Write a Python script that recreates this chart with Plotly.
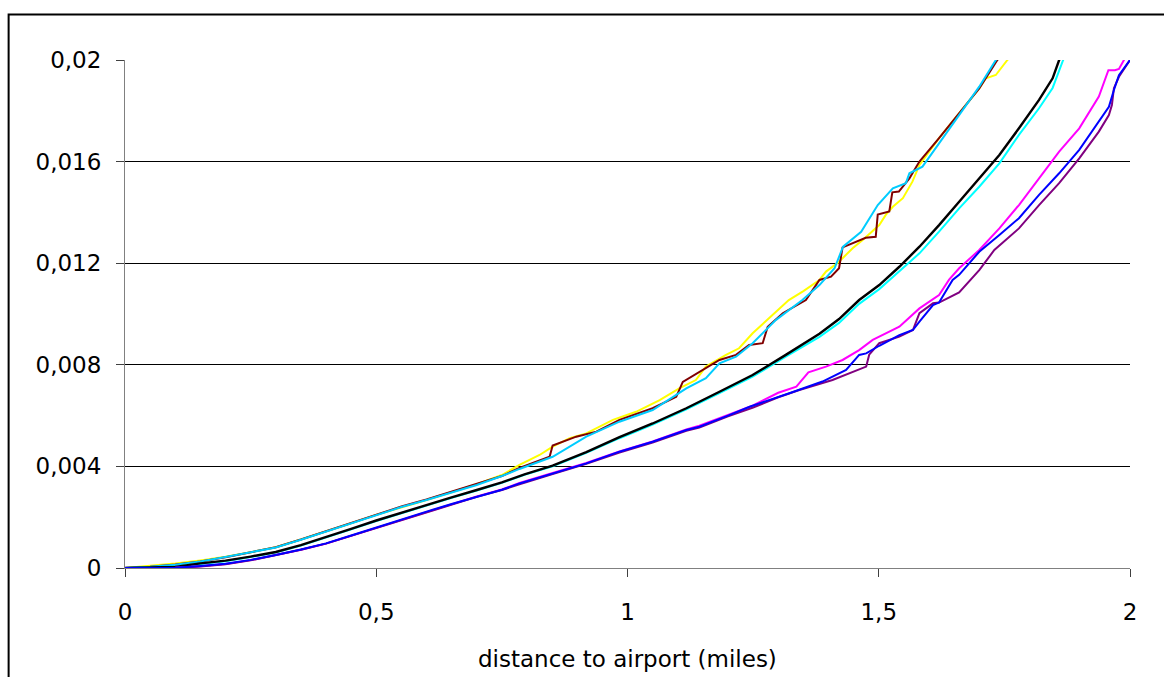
import plotly.graph_objects as go

# Shared sample points for the low-distance part of every curve
x_low = [0, 0.05, 0.1, 0.15, 0.2, 0.25, 0.3, 0.35, 0.4, 0.45, 0.5, 0.55, 0.6, 0.65, 0.7, 0.75]

# ---- upper group -------------------------------------------------------
yellow_y_low = [0, 0.00008, 0.00018, 0.00030, 0.00044, 0.00062, 0.00082, 0.00112, 0.00143, 0.00176,
                0.00209, 0.00240, 0.00268, 0.00298, 0.00330, 0.00366]
yellow_x_high = [0.785, 0.825, 0.851, 0.885, 0.918, 0.971, 1.017, 1.064, 1.103, 1.136, 1.156, 1.196,
                 1.222, 1.249, 1.288, 1.321, 1.35, 1.382, 1.395, 1.42, 1.448, 1.468, 1.501, 1.514,
                 1.528, 1.548, 1.567, 1.581, 1.62, 1.66, 1.7, 1.713, 1.733, 1.756, 1.77]
yellow_y_high = [0.00406, 0.00445, 0.00478, 0.00511, 0.00530, 0.00583, 0.00615, 0.00661, 0.00707,
                 0.00740, 0.00793, 0.00839, 0.00865, 0.00924, 0.00996, 0.01055, 0.01090, 0.01134,
                 0.01167, 0.01204, 0.01259, 0.01291, 0.01350, 0.01390, 0.01422, 0.01456, 0.01521,
                 0.01587, 0.01692, 0.01790, 0.01888, 0.01928, 0.01941, 0.02000, 0.02030]

brown_y_low = [0, 0.00005, 0.00014, 0.00026, 0.00042, 0.00061, 0.00082, 0.00112, 0.00145, 0.00178,
               0.00211, 0.00242, 0.00270, 0.00300, 0.00330, 0.00362]
brown_x_high = [0.785, 0.845, 0.851, 0.898, 0.938, 0.984, 1.05, 1.097, 1.11, 1.143, 1.183, 1.216,
                1.242, 1.269, 1.279, 1.309, 1.355, 1.382, 1.405, 1.421, 1.428, 1.474, 1.494, 1.498,
                1.521, 1.527, 1.54, 1.561, 1.581, 1.62, 1.66, 1.7, 1.736, 1.75]
brown_y_high = [0.00394, 0.00438, 0.00482, 0.00517, 0.00537, 0.00583, 0.00629, 0.00674, 0.00733,
                0.00773, 0.00819, 0.00839, 0.00878, 0.00885, 0.00950, 0.01003, 0.01055, 0.01134,
                0.01147, 0.01180, 0.01262, 0.01300, 0.01304, 0.01392, 0.01404, 0.01479, 0.01482,
                0.01534, 0.01600, 0.01692, 0.01790, 0.01888, 0.02000, 0.02030]

sky_y_low = [0, 0.00005, 0.00013, 0.00026, 0.00043, 0.00062, 0.00081, 0.00111, 0.00143, 0.00176,
             0.00209, 0.00240, 0.00268, 0.00298, 0.00327, 0.00362]
sky_x_high = [0.785, 0.851, 0.918, 0.984, 1.05, 1.117, 1.156, 1.183, 1.216, 1.249, 1.295, 1.348,
              1.382, 1.412, 1.429, 1.465, 1.498, 1.528, 1.554, 1.561, 1.587, 1.62, 1.66, 1.7,
              1.733, 1.75]
sky_y_high = [0.00390, 0.00438, 0.00517, 0.00576, 0.00622, 0.00707, 0.00747, 0.00806, 0.00832,
              0.00885, 0.00976, 0.01055, 0.01114, 0.01180, 0.01265, 0.01324, 0.01429, 0.01495,
              0.01515, 0.01554, 0.01580, 0.01672, 0.01783, 0.01895, 0.02000, 0.02040]

# ---- middle group ------------------------------------------------------
black_y_low = [0, 0.00002, 0.00004, 0.00018, 0.00029, 0.00045, 0.00063, 0.00090, 0.00121, 0.00154,
               0.00187, 0.00218, 0.00248, 0.00278, 0.00307, 0.00337]
black_x_high = [0.795, 0.851, 0.918, 0.984, 1.05, 1.117, 1.183, 1.249, 1.315, 1.382, 1.421, 1.461,
                1.501, 1.541, 1.581, 1.62, 1.66, 1.7, 1.74, 1.779, 1.819, 1.846, 1.859, 1.875]
black_y_high = [0.00369, 0.00403, 0.00456, 0.00515, 0.00569, 0.00629, 0.00694, 0.00760, 0.00839,
                0.00922, 0.00980, 0.01055, 0.01114, 0.01186, 0.01265, 0.01350, 0.01442, 0.01534,
                0.01626, 0.01731, 0.01843, 0.01928, 0.02000, 0.02050]

cyan_y_low = [0, 0.00002, 0.00004, 0.00016, 0.00027, 0.00043, 0.00061, 0.00088, 0.00119, 0.00152,
              0.00185, 0.00216, 0.00246, 0.00276, 0.00305, 0.00335]
cyan_x_high = [0.795, 0.851, 0.918, 0.984, 1.05, 1.117, 1.183, 1.249, 1.315, 1.382, 1.421, 1.461,
               1.501, 1.541, 1.581, 1.62, 1.66, 1.7, 1.74, 1.779, 1.819, 1.846, 1.867, 1.88]
cyan_y_high = [0.00367, 0.00400, 0.00453, 0.00511, 0.00565, 0.00625, 0.00689, 0.00753, 0.00832,
               0.00910, 0.00965, 0.01040, 0.01098, 0.01167, 0.01239, 0.01324, 0.01416, 0.01501,
               0.01593, 0.01705, 0.01810, 0.01890, 0.02000, 0.02040]

# ---- lower group -------------------------------------------------------
magenta_y_low = [0, 0, 0.00001, 0.00007, 0.00016, 0.00031, 0.00050, 0.00072, 0.00096, 0.00127,
                 0.00160, 0.00192, 0.00223, 0.00253, 0.00282, 0.00309]
magenta_x_high = [0.785, 0.851, 0.918, 0.984, 1.05, 1.117, 1.143, 1.2, 1.25, 1.3, 1.336, 1.36,
                  1.395, 1.428, 1.461, 1.488, 1.541, 1.581, 1.62, 1.64, 1.66, 1.7, 1.74, 1.779,
                  1.819, 1.859, 1.899, 1.938, 1.957, 1.97, 1.978, 1.988, 2.0]
magenta_y_high = [0.00335, 0.00374, 0.00414, 0.00459, 0.00498, 0.00545, 0.00560, 0.00603, 0.00640,
                  0.00690, 0.00714, 0.00770, 0.00793, 0.00819, 0.00858, 0.00898, 0.00950, 0.01022,
                  0.01075, 0.01135, 0.01180, 0.01252, 0.01337, 0.01429, 0.01534, 0.01639, 0.01731,
                  0.01856, 0.01960, 0.01960, 0.01965, 0.02000, 0.02030]

purple_y_low = [0, 0, 0, 0.00006, 0.00015, 0.00030, 0.00050, 0.00072, 0.00096, 0.00127,
                0.00159, 0.00190, 0.00221, 0.00251, 0.00280, 0.00307]
purple_x_high = [0.785, 0.851, 0.918, 0.984, 1.05, 1.117, 1.143, 1.2, 1.25, 1.3, 1.342, 1.408,
                 1.475, 1.481, 1.501, 1.541, 1.568, 1.581, 1.608, 1.62, 1.66, 1.7, 1.73, 1.779,
                 1.819, 1.859, 1.899, 1.938, 1.958, 1.964, 1.968, 1.978, 2.0]
purple_y_high = [0.00330, 0.00370, 0.00410, 0.00455, 0.00494, 0.00540, 0.00553, 0.00597, 0.00632,
                 0.00672, 0.00701, 0.00740, 0.00793, 0.00840, 0.00885, 0.00911, 0.00937, 0.01003,
                 0.01042, 0.01045, 0.01085, 0.01173, 0.01252, 0.01337, 0.01429, 0.01515, 0.01613,
                 0.01718, 0.01783, 0.01823, 0.01889, 0.01934, 0.02000]

blue_y_low = [0, 0, 0.00001, 0.00008, 0.00017, 0.00032, 0.00051, 0.00073, 0.00097, 0.00128,
              0.00160, 0.00191, 0.00222, 0.00252, 0.00281, 0.00308]
blue_x_high = [0.785, 0.851, 0.918, 0.984, 1.05, 1.117, 1.143, 1.2, 1.243, 1.322, 1.388, 1.435,
               1.461, 1.475, 1.501, 1.541, 1.568, 1.581, 1.608, 1.62, 1.647, 1.66, 1.7, 1.74,
               1.779, 1.819, 1.859, 1.899, 1.938, 1.958, 1.968, 1.978, 2.0]
blue_y_high = [0.00333, 0.00373, 0.00412, 0.00458, 0.00497, 0.00543, 0.00556, 0.00600, 0.00635,
               0.00688, 0.00734, 0.00780, 0.00839, 0.00845, 0.00875, 0.00917, 0.00937, 0.00970,
               0.01035, 0.01045, 0.01134, 0.01154, 0.01245, 0.01311, 0.01377, 0.01469, 0.01554,
               0.01646, 0.01757, 0.01816, 0.01882, 0.01940, 0.02000]

# Axis ticks
y_tickvals = [0, 0.004, 0.008, 0.012, 0.016, 0.02]
y_ticktext = ["0", "0,004", "0,008", "0,012", "0,016", "0,02"]
x_tickvals = [0, 0.5, 1, 1.5, 2]
x_ticktext = ["0", "0,5", "1", "1,5", "2"]

series = [
    ("#FFFF00", 2, yellow_y_low, yellow_x_high, yellow_y_high),
    ("#800000", 2, brown_y_low, brown_x_high, brown_y_high),
    ("#00CCFF", 2, sky_y_low, sky_x_high, sky_y_high),
    ("#00FFFF", 2, cyan_y_low, cyan_x_high, cyan_y_high),
    ("#000000", 2.4, black_y_low, black_x_high, black_y_high),
    ("#FF00FF", 2, magenta_y_low, magenta_x_high, magenta_y_high),
    ("#800080", 2, purple_y_low, purple_x_high, purple_y_high),
    ("#0000FF", 2, blue_y_low, blue_x_high, blue_y_high),
]

fig = go.Figure()
for color, lw, y_lo, x_hi, y_hi in series:
    fig.add_trace(go.Scatter(
        x=x_low + x_hi, y=y_lo + y_hi, mode="lines",
        line=dict(color=color, width=lw), showlegend=False, hoverinfo="skip",
    ))

FONT = "'DejaVu Sans', sans-serif"
FSIZE = 23

fig.update_layout(
    width=1164, height=677,
    margin=dict(l=125, r=34, t=60, b=109),
    paper_bgcolor="white", plot_bgcolor="white",
    font=dict(family=FONT, size=FSIZE, color="black"),
    xaxis=dict(
        range=[0, 2], tickmode="array", tickvals=x_tickvals, ticktext=x_ticktext,
        showgrid=False, zeroline=False, showline=True, linecolor="#808080", linewidth=1,
        ticks="outside", ticklen=8, tickcolor="#404040", tickwidth=1,
        ticklabelstandoff=15, tickfont=dict(family=FONT, size=FSIZE, color="black"),
    ),
    yaxis=dict(
        range=[0, 0.0200001], tickmode="array", tickvals=y_tickvals, ticktext=y_ticktext,
        showgrid=True, gridcolor="black", gridwidth=1, zeroline=False,
        showline=True, linecolor="#808080", linewidth=1,
        ticks="outside", ticklen=8, tickcolor="#404040", tickwidth=1,
        ticklabelstandoff=10, tickfont=dict(family=FONT, size=FSIZE, color="black"),
    ),
    annotations=[dict(
        text="distance to airport (miles)", xref="paper", yref="paper",
        x=0.5, y=-0.18, xanchor="center", yanchor="middle", showarrow=False,
        font=dict(family=FONT, size=FSIZE, color="black"),
    )],
    shapes=[dict(
        type="rect", xref="paper", yref="paper",
        x0=-0.1158, x1=1.06, y0=-0.3, y1=1.0896,
        line=dict(color="black", width=2), fillcolor="rgba(0,0,0,0)",
    )],
)

fig.write_html("out.html")
